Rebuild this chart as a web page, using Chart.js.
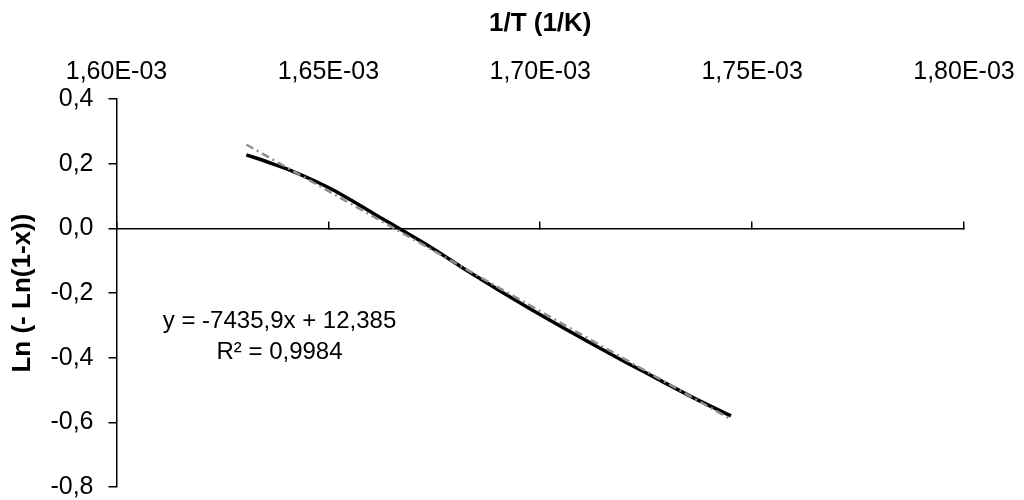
<!DOCTYPE html>
<html>
<head>
<meta charset="utf-8">
<script src="https://cdn.jsdelivr.net/npm/chart.js@4.4.1/dist/chart.umd.min.js"></script>
<style>
html,body{margin:0;padding:0;background:#fff;}
#wrap{width:1024px;height:500px;position:relative;}
</style>
</head>
<body>
<div id="wrap"><canvas id="c" width="1024" height="500"></canvas></div>
<script>
// ---- data ----
const invT = [1.63064e-3, 1.63689e-3, 1.64160e-3, 1.64631e-3, 1.65101e-3, 1.65572e-3, 1.66042e-3, 1.66513e-3, 1.67454e-3, 1.68240e-3, 1.69024e-3, 1.69807e-3, 1.70593e-3, 1.71219e-3, 1.72005e-3, 1.72788e-3, 1.73572e-3, 1.74499e-3];
const lnLn = [0.228, 0.200, 0.177, 0.150, 0.120, 0.085, 0.048, 0.012, -0.061, -0.128, -0.191, -0.252, -0.311, -0.357, -0.413, -0.467, -0.521, -0.580];

// linear trendline (as printed on the chart)
const trendSlope = -7435.9;
const trendIntercept = 12.385;
const equationLines = ['y = -7435,9x + 12,385', 'R\u00B2 = 0,9984'];
const equationAnchorX = 1.63847e-3;
const equationAnchorY = [-0.289, -0.382];

// axes
const xTickLabels = ['1,60E-03', '1,65E-03', '1,70E-03', '1,75E-03', '1,80E-03'];
const xMin = 1.60e-3, xMax = 1.80e-3, xStep = 0.05e-3;
const yTickLabels = ['-0,8', '-0,6', '-0,4', '-0,2', '0,0', '0,2', '0,4'];
const yMin = -0.8, yMax = 0.4, yStep = 0.2;
const xTitle = '1/T (1/K)';
const yTitle = 'Ln (- Ln(1-x))';

// ---- build ----
const FONT = '"Liberation Sans", Arial, Helvetica, sans-serif';
Chart.defaults.font.family = FONT;
Chart.defaults.color = '#000';

const dataPoints = invT.map((x, i) => ({x: x, y: lnLn[i]}));
const xFirst = invT[0], xLast = invT[invT.length - 1];
const trendPoints = [
  {x: xFirst, y: trendSlope * xFirst + trendIntercept},
  {x: xLast, y: trendSlope * xLast + trendIntercept}
];

function xLabel(v) {
  const i = Math.round((v - xMin) / xStep);
  return xTickLabels[i] !== undefined ? xTickLabels[i] : '';
}
function yLabel(v) {
  const i = Math.round((v - yMin) / yStep);
  return yTickLabels[i] !== undefined ? yTickLabels[i] : '';
}

const equationPlugin = {
  id: 'equation',
  afterDatasetsDraw(chart) {
    const ctx = chart.ctx;
    const xs = chart.scales.x, ys = chart.scales.y;
    ctx.save();
    ctx.font = '24px ' + FONT;
    ctx.fillStyle = '#000';
    ctx.textAlign = 'center';
    ctx.textBaseline = 'middle';
    equationLines.forEach((t, i) => {
      ctx.fillText(t, xs.getPixelForValue(equationAnchorX), ys.getPixelForValue(equationAnchorY[i]));
    });
    ctx.restore();
  }
};

new Chart(document.getElementById('c'), {
  type: 'scatter',
  data: {
    datasets: [
      {
        label: 'Linear trend',
        data: trendPoints,
        showLine: true,
        borderColor: '#8f8f8f',
        borderWidth: 2.5,
        borderDash: [8, 4, 2, 4],
        pointRadius: 0,
        fill: false,
        order: 0
      },
      {
        label: 'Ln(-Ln(1-x))',
        data: dataPoints,
        showLine: true,
        borderColor: '#000',
        borderWidth: 3.5,
        pointRadius: 0,
        tension: 0.4,
        cubicInterpolationMode: 'monotone',
        fill: false,
        order: 1
      }
    ]
  },
  options: {
    responsive: false,
    animation: false,
    layout: {padding: {left: 4, right: 60, top: 0, bottom: 13}},
    plugins: {legend: {display: false}, tooltip: {enabled: false}},
    scales: {
      x: {
        type: 'linear',
        position: 'top',
        min: xMin, max: xMax,
        ticks: {stepSize: xStep, callback: xLabel, font: {size: 25}, padding: 12, maxRotation: 0, autoSkip: false},
        grid: {display: false, drawTicks: false},
        border: {display: false},
        title: {display: true, text: xTitle, font: {size: 26, weight: 'bold'}, padding: {top: 8, bottom: 6}},
        afterFit(s) { s.paddingRight = 56; }
      },
      xAxis0: {
        type: 'linear',
        position: {y: 0},
        min: xMin, max: xMax,
        ticks: {display: false, stepSize: xStep},
        grid: {display: true, drawOnChartArea: false, drawTicks: true, tickLength: -8, color: '#000', lineWidth: 1.5},
        border: {display: true, color: '#000', width: 1.5}
      },
      y: {
        type: 'linear',
        position: 'left',
        min: yMin, max: yMax,
        ticks: {stepSize: yStep, callback: yLabel, font: {size: 25}, padding: 15},
        grid: {display: true, drawOnChartArea: false, drawTicks: true, tickLength: 8, color: '#000', lineWidth: 1.5},
        border: {display: true, color: '#000', width: 1.5},
        title: {display: true, text: yTitle, font: {size: 26, weight: 'bold'}, padding: {top: 3, bottom: 4}},
        afterFit(s) { s.width = 112.5; s.paddingBottom = 13; s.paddingTop = 0; }
      }
    }
  },
  plugins: [equationPlugin]
});
</script>
</body>
</html>
